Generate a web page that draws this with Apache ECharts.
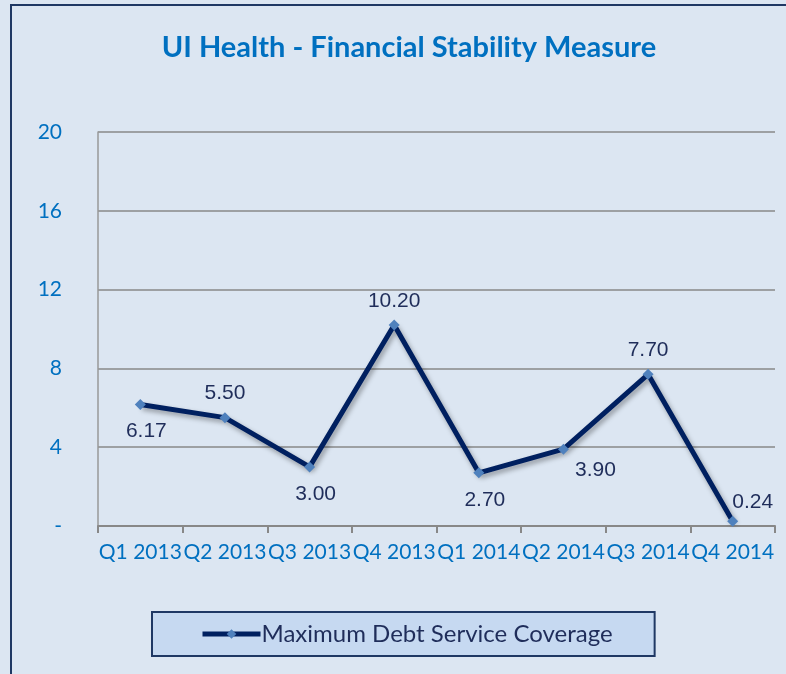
<!DOCTYPE html>
<html>
<head>
<meta charset="utf-8">
<script src="https://cdn.jsdelivr.net/npm/echarts@6/dist/echarts.min.js"></script>
<style>
  html, body { margin: 0; padding: 0; background: #fff; }
  #chart { width: 786px; height: 674px; }
</style>
</head>
<body>
<div id="chart"></div>
<script>
const categories = ['Q1 2013', 'Q2 2013', 'Q3 2013', 'Q4 2013', 'Q1 2014', 'Q2 2014', 'Q3 2014', 'Q4 2014'];
const coverage = [6.17, 5.50, 3.00, 10.20, 2.70, 3.90, 7.70, 0.24];
const yTicks = [0, 4, 8, 12, 16, 20];

// where each point's label sits, like in the original sheet
const labelSides = ['bottom', 'top', 'bottom', 'top', 'bottom', 'bottomRight', 'top', 'topRight'];

const chart = echarts.init(document.getElementById('chart'));

function labelFor(side) {
  if (side === 'bottomRight') return { position: 'bottom', distance: 5, offset: [32, 0] };
  if (side === 'topRight') return { position: 'top', distance: 3, offset: [20, 0] };
  if (side === 'bottom') return { position: 'bottom', distance: 11, offset: [6, 0] };
  return { position: 'top', distance: 8 };
}

chart.setOption({
  backgroundColor: '#dce6f2',
  animation: false,
  title: {
    text: 'UI Health - Financial Stability Measure',
    left: 404, top: 28, textAlign: 'center',
    textStyle: { color: '#0070c0', fontSize: 29, fontWeight: 'bold', fontFamily: 'Lato' }
  },
  graphic: [{
    type: 'rect', shape: { x: 11, y: 5, width: 800, height: 700 },
    style: { fill: 'none', stroke: '#1f3864', lineWidth: 2 }, silent: true
  }],
  legend: {
    left: 152, top: 612,
    padding: [10, 42, 10, 48],
    backgroundColor: '#c6d9f1', borderColor: '#1f3864', borderWidth: 2,
    itemWidth: 58, itemHeight: 12, itemGap: 0,
    lineStyle: { width: 5, color: '#002060' },
    textStyle: { color: '#1f2d5a', fontSize: 24, fontFamily: 'Lato', padding: [0, 0, 0, -4] },
    data: ['Maximum Debt Service Coverage']
  },
  grid: { left: 98, right: 11, top: 132, bottom: 148 },
  xAxis: {
    type: 'category', data: categories, boundaryGap: true,
    axisLine: { lineStyle: { color: '#888', width: 2 } },
    axisTick: { show: true, length: 7, lineStyle: { color: '#888', width: 2 } },
    axisLabel: { color: '#0070c0', fontSize: 21, fontFamily: 'Lato', margin: 16, interval: 0 }
  },
  yAxis: {
    type: 'value', min: 0, max: 20, interval: 4,
    axisLine: { show: true, lineStyle: { color: '#999', width: 1.5 } },
    axisTick: { show: false },
    splitLine: { lineStyle: { color: '#888', width: 1.5 } },
    axisLabel: {
      color: '#0070c0', fontSize: 21, fontFamily: 'Lato', margin: 36,
      formatter: v => yTicks.includes(v) ? (v === 0 ? '-' : String(v)) : ''
    }
  },
  series: [{
    name: 'Maximum Debt Service Coverage',
    type: 'line',
    data: coverage.map((v, i) => ({ value: v, label: labelFor(labelSides[i]) })),
    symbol: 'diamond', symbolSize: 11,
    itemStyle: { color: '#4f81bd' },
    lineStyle: {
      color: '#002060', width: 5,
      shadowColor: 'rgba(0,0,0,0.35)', shadowBlur: 5, shadowOffsetX: 2, shadowOffsetY: 3
    },
    label: {
      show: true, color: '#1f2d5a', fontSize: 21, fontFamily: 'Liberation Sans',
      formatter: p => p.value.toFixed(2)
    }
  }]
});
</script>
</body>
</html>
